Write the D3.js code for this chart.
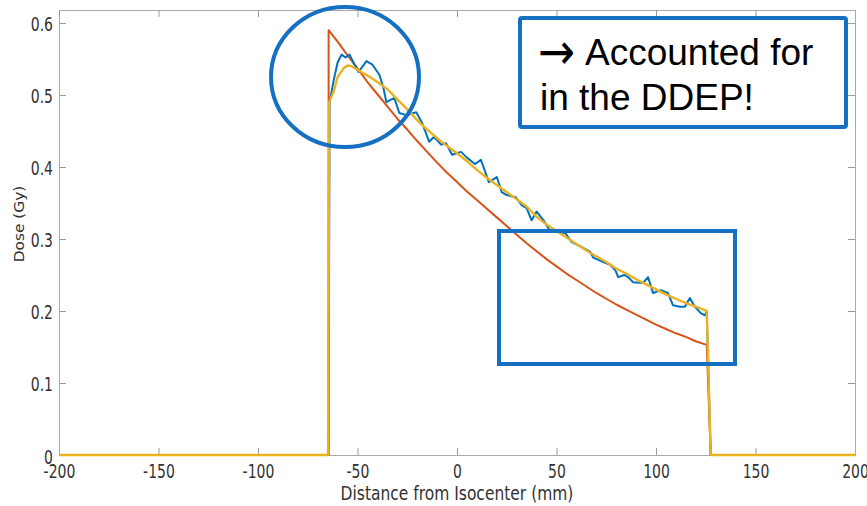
<!DOCTYPE html>
<html>
<head>
<meta charset="utf-8">
<script src="https://cdn.jsdelivr.net/npm/d3@7"></script>
<style>
  body { margin: 0; background: #fff; }
  svg { display: block; }
</style>
</head>
<body>
<div id="chart"></div>
<script>
// Izracunata doza (crveno)
const redDistance = [-200, -64.6, -64.5, -60, -55, -50, -45, -40, -35, -30, -25, -20, -15, -10, -5, 0, 5, 10, 15, 20, 25, 30, 35, 40, 45, 50, 55, 60, 65, 70, 75, 80, 85, 90, 95, 100, 105, 110, 115, 120, 125.5, 127.5, 200];
const redDose = [0, 0, 0.590, 0.574, 0.555, 0.537, 0.518, 0.501, 0.484, 0.467, 0.452, 0.436, 0.421, 0.406, 0.392, 0.379, 0.366, 0.354, 0.342, 0.330, 0.318, 0.306, 0.294, 0.283, 0.272, 0.262, 0.252, 0.243, 0.234, 0.225, 0.217, 0.209, 0.202, 0.195, 0.188, 0.181, 0.175, 0.169, 0.164, 0.158, 0.153, 0, 0];

// Izmjerena doza (plavo)
const blueDistance = [-200, -64.6, -64, -62, -60, -58, -56, -54, -52, -49.5, -47, -45.5, -42.5, -39, -37, -35.5, -31.5, -29, -25.5, -20.5, -17.5, -14, -11.5, -8, -5.5, -2.5, 2, 5, 9, 12, 16, 20, 22.5, 25, 29.5, 32.5, 35, 37.5, 40, 43.5, 47, 51, 54.5, 57.5, 62.5, 67, 68.5, 73.5, 77, 79.5, 81, 84, 86, 88.5, 93.5, 96, 98.5, 102.5, 106, 108.5, 112, 114.5, 117, 119.5, 122.5, 124.5, 125.5, 127.5, 200];
const blueDose = [0, 0, 0.490, 0.520, 0.545, 0.556, 0.552, 0.556, 0.545, 0.532, 0.541, 0.547, 0.542, 0.528, 0.510, 0.490, 0.496, 0.475, 0.472, 0.476, 0.461, 0.435, 0.442, 0.431, 0.433, 0.417, 0.421, 0.413, 0.404, 0.410, 0.379, 0.386, 0.365, 0.361, 0.358, 0.347, 0.343, 0.326, 0.338, 0.326, 0.310, 0.310, 0.308, 0.296, 0.289, 0.282, 0.274, 0.268, 0.264, 0.257, 0.247, 0.250, 0.247, 0.240, 0.239, 0.247, 0.225, 0.229, 0.225, 0.208, 0.206, 0.206, 0.218, 0.206, 0.197, 0.194, 0.199, 0, 0];

// Izglađena doza (zuto)
const yellowDistance = [-200, -64.8, -64.2, -62, -60, -57, -55, -53, -50, -45, -40, -35, -30, -25, -20, -15, -10, -5, 0, 5, 10, 15, 20, 25, 30, 35, 40, 45, 50, 55, 60, 65, 70, 75, 80, 85, 90, 95, 100, 105, 110, 115, 120, 125.5, 127.5, 200];
const yellowDose = [0, 0, 0.490, 0.505, 0.525, 0.537, 0.541, 0.540, 0.535, 0.527, 0.518, 0.508, 0.494, 0.480, 0.465, 0.452, 0.440, 0.429, 0.419, 0.408, 0.396, 0.385, 0.375, 0.365, 0.355, 0.345, 0.331, 0.320, 0.311, 0.302, 0.293, 0.284, 0.276, 0.268, 0.259, 0.252, 0.244, 0.237, 0.230, 0.223, 0.217, 0.211, 0.206, 0.200, 0, 0];

const xTicks = [-200, -150, -100, -50, 0, 50, 100, 150, 200];
const yTicks = [0, 0.1, 0.2, 0.3, 0.4, 0.5, 0.6];
const noteArrow = "\u2192";
const noteLines = ["Accounted for", "in the DDEP!"];

// Dimenzije
const sirina = 867, visina = 506;
const plot = { left: 59, right: 855, top: 10, bottom: 455 };

const svg = d3.select("#chart").append("svg")
    .attr("width", sirina)
    .attr("height", visina);

const x = d3.scaleLinear().domain([-200, 200]).range([plot.left, plot.right]);
const y = d3.scaleLinear().domain([0, 0.618]).range([plot.bottom, plot.top]);

// Osi (okvir s tickovima prema unutra)
const axisColor = "#a9a9a9";
const tickFont = "'DejaVu Sans', sans-serif";

const xAxis = svg.append("g")
    .attr("transform", `translate(0,${plot.bottom})`)
    .call(d3.axisBottom(x).tickValues(xTicks).tickSize(-7).tickFormat(d => String(d)));
xAxis.selectAll("text")
    .attr("y", 0).attr("dy", null)
    .attr("transform", "translate(0,23) scale(1,1.35)")
    .style("font-family", tickFont).style("font-size", "14px").attr("fill", "#333");

const yAxis = svg.append("g")
    .attr("transform", `translate(${plot.left},0)`)
    .call(d3.axisLeft(y).tickValues(yTicks).tickSize(-7).tickFormat(d => d === 0 ? "0" : d3.format(".1f")(d)));
yAxis.selectAll("text")
    .attr("x", 0).attr("dy", null)
    .attr("transform", "translate(-6,8) scale(1,1.35)")
    .style("font-family", tickFont).style("font-size", "14px").attr("fill", "#333");

svg.append("g")
    .attr("transform", `translate(0,${plot.top})`)
    .call(d3.axisTop(x).tickValues(xTicks).tickSize(-7).tickFormat(""));
svg.append("g")
    .attr("transform", `translate(${plot.right},0)`)
    .call(d3.axisRight(y).tickValues(yTicks).tickSize(-7).tickFormat(""));

svg.selectAll(".domain").attr("stroke", axisColor);
svg.selectAll(".tick line").attr("stroke", "#999");

// Naslovi osi
svg.append("text")
    .attr("transform", `translate(${(plot.left + plot.right) / 2},500) scale(1,1.3)`)
    .attr("text-anchor", "middle")
    .style("font-family", tickFont).style("font-size", "15.5px").attr("fill", "#333")
    .text("Distance from Isocenter (mm)");

svg.append("text")
    .attr("transform", `translate(24,224) rotate(-90) scale(1.1,1)`)
    .attr("text-anchor", "middle")
    .style("font-family", tickFont).style("font-size", "14px").attr("fill", "#333")
    .text("Dose (Gy)");

// Krivulje
const line = d3.line().x(d => x(d[0])).y(d => y(d[1]));
const series = [
    { dist: redDistance, dose: redDose, color: "#D95319", w: 2 },
    { dist: blueDistance, dose: blueDose, color: "#0072BD", w: 2 },
    { dist: yellowDistance, dose: yellowDose, color: "#EDB120", w: 2.4 }
];
series.forEach(s => {
    svg.append("path")
        .datum(d3.zip(s.dist, s.dose))
        .attr("d", line)
        .attr("fill", "none")
        .attr("stroke", s.color)
        .attr("stroke-width", s.w)
        .attr("stroke-linejoin", "round");
});

// Oznake
const markBlue = "#1570c4";
svg.append("ellipse")
    .attr("cx", 345).attr("cy", 77).attr("rx", 74).attr("ry", 70)
    .attr("fill", "none").attr("stroke", markBlue).attr("stroke-width", 4);

svg.append("rect")
    .attr("x", 499).attr("y", 231).attr("width", 236).attr("height", 133)
    .attr("fill", "none").attr("stroke", markBlue).attr("stroke-width", 4);

svg.append("rect")
    .attr("x", 520).attr("y", 18).attr("width", 326).attr("height", 109)
    .attr("rx", 2)
    .attr("fill", "#fff").attr("stroke", markBlue).attr("stroke-width", 4);

// strelica kao zaseban tekst, rastegnuta da lici na Wingdings strelicu
svg.append("text")
    .attr("transform", "translate(538,69) scale(1.3,1.5)")
    .style("font-family", "'DejaVu Sans', sans-serif")
    .style("font-size", "34px")
    .attr("fill", "#000")
    .text(noteArrow);

svg.append("text")
    .attr("x", 585).attr("y", 65)
    .style("font-family", "'Liberation Sans', Arial, sans-serif")
    .style("font-size", "37px")
    .attr("fill", "#000")
    .text(noteLines[0]);

svg.append("text")
    .attr("x", 540).attr("y", 110)
    .style("font-family", "'Liberation Sans', Arial, sans-serif")
    .style("font-size", "37px")
    .attr("fill", "#000")
    .text(noteLines[1]);
</script>
</body>
</html>
